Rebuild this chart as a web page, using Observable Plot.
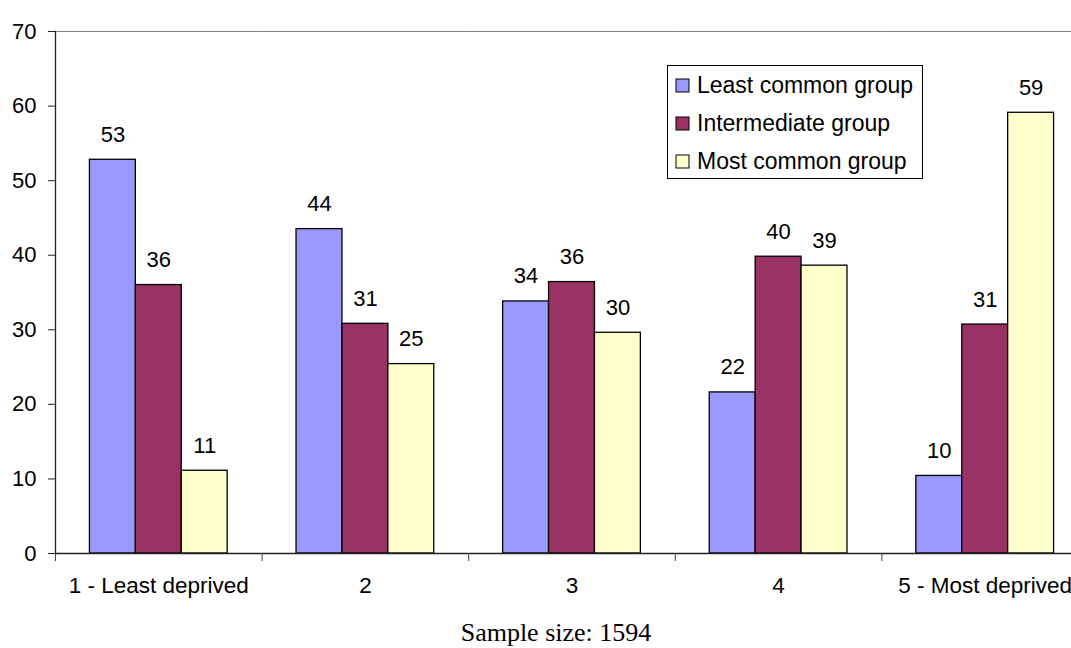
<!DOCTYPE html>
<html>
<head>
<meta charset="utf-8">
<script src="https://cdn.jsdelivr.net/npm/d3@7"></script>
<script src="https://cdn.jsdelivr.net/npm/@observablehq/plot@0.6"></script>
<style>
  html, body { margin: 0; padding: 0; background: #fff; overflow: hidden; }
  #wrap { position: relative; width: 1071px; height: 648px; }
  #chart svg { display: block; overflow: hidden; }
  #legend { position: absolute; left: 667px; top: 65px; width: 254px; height: 112px; border: 1px solid #000; background: #fff; }
  #legend > div { font-family: "Liberation Sans", Arial, sans-serif !important; font-size: 23px !important; color: #000 !important; margin: 0 !important; padding: 0 0 0 8px !important; min-height: 0 !important; }
  #legend [class$="-swatch"] { height: 38px !important; padding: 0 !important; display: flex !important; align-items: center !important; }
  #legend svg { margin-right: 8px !important; overflow: visible !important; }
  #legend svg rect { stroke: #000; stroke-width: 1px; }
  #caption { position: absolute; left: 0; top: 618px; width: 1112px; text-align: center; font-family: "Liberation Serif", "Times New Roman", serif; font-size: 26px; line-height: 30px; color: #000; }
</style>
</head>
<body>
<div id="wrap">
  <div id="chart"></div>
  <div id="legend"></div>
  <div id="caption"></div>
</div>
<script>
const categories = ["1 - Least deprived", "2", "3", "4", "5 - Most deprived"];
const series = ["Least common group", "Intermediate group", "Most common group"];
const leastCommon = [52.8, 43.5, 33.8, 21.6, 10.4];
const intermediate = [36.0, 30.8, 36.4, 39.8, 30.7];
const mostCommon = [11.1, 25.4, 29.6, 38.6, 59.1];
const colors = ["#9999FF", "#993366", "#FFFFCC"];
const yTicks = [0, 10, 20, 30, 40, 50, 60, 70];
const captionText = "Sample size: 1594";

const seriesValues = [leastCommon, intermediate, mostCommon];
const rows = categories.flatMap((c, i) =>
  seriesValues.map((vals, j) => ({category: c, group: series[j], value: vals[i]}))
);

const plot = Plot.plot({
  width: 1071,
  height: 610,
  marginLeft: 55,
  marginRight: -17,
  marginTop: 31,
  marginBottom: 57,
  style: {fontFamily: '"Liberation Sans", Arial, sans-serif', fontSize: "22px", background: "#fff", color: "#000", overflow: "hidden"},
  fx: {domain: categories, padding: 0, round: false, axis: null},
  x: {domain: series, paddingInner: 0, paddingOuter: 0.75, round: false, axis: null},
  y: {domain: [0, 70], axis: null},
  color: {domain: series, range: colors},
  marks: [
    Plot.ruleY([70], {stroke: "#808080", strokeWidth: 1}),
    Plot.barY(rows, {fx: "category", x: "group", y: "value", fill: "group", stroke: "#000", strokeWidth: 1.3}),
    Plot.text(rows, {fx: "category", x: "group", y: "value", text: d => d3.format(".0f")(d.value), lineAnchor: "bottom", dy: -18, fontSize: 22, fill: "#000"}),
    Plot.ruleY([0], {stroke: "#222", strokeWidth: 1.5}),
    Plot.frame({anchor: "left", facetAnchor: "left", stroke: "#222", strokeWidth: 1.3}),
    Plot.axisY({ticks: yTicks, tickSize: 7, tickPadding: 12, fontSize: 22, stroke: "#222", label: null}),
    Plot.frame({anchor: "left", insetTop: 522, insetBottom: -7, stroke: "#444"}),
    Plot.axisFx({anchor: "bottom", tickSize: 0, tickPadding: 24, fontSize: 22.5, label: null})
  ]
});
document.getElementById("chart").appendChild(plot);

const legend = Plot.legend({
  color: {domain: series, range: colors},
  legend: "swatches",
  columns: 1,
  swatchSize: 13
});
document.getElementById("legend").appendChild(legend);
document.getElementById("caption").textContent = captionText;
</script>
</body>
</html>
